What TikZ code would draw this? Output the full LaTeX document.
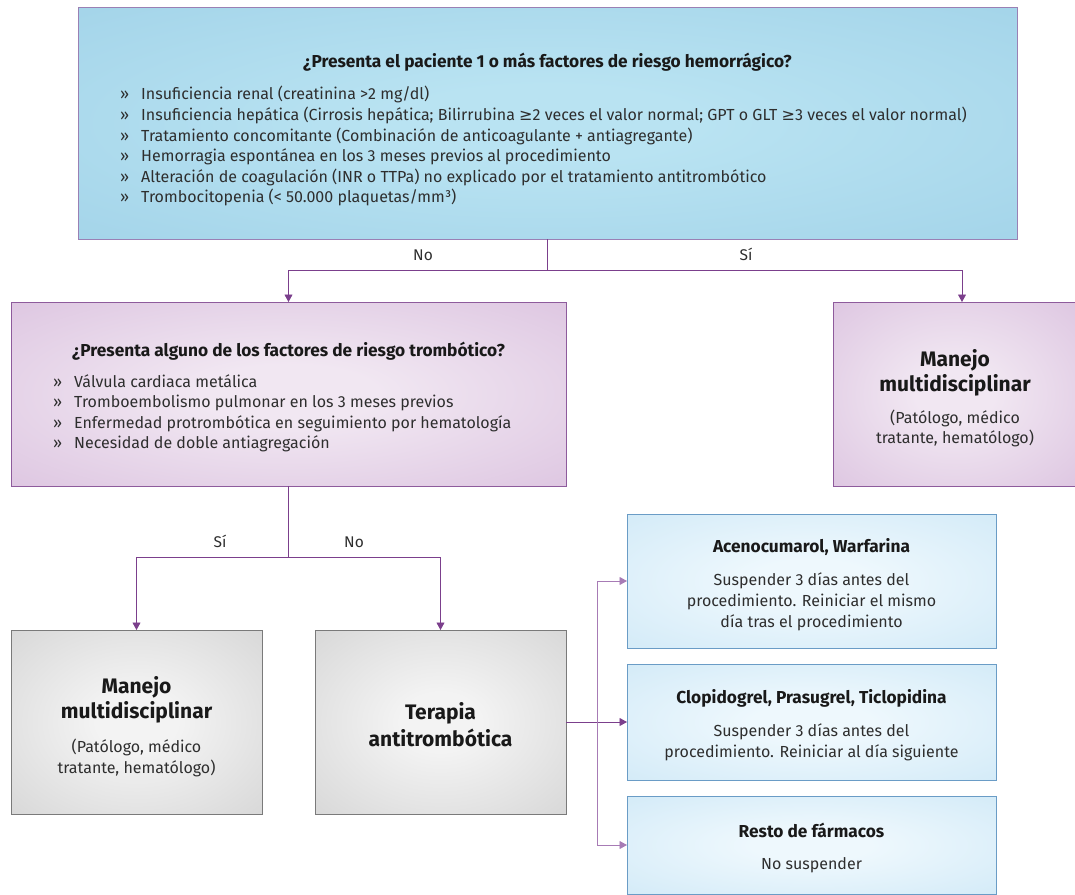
\documentclass[tikz,border=0pt]{standalone}
\usepackage{fontspec}
\setmainfont{Fira Sans}
\newfontfamily\symf{DejaVu Sans}
\usetikzlibrary{arrows.meta,calc}
\definecolor{ln}{HTML}{7B3F8C}
\definecolor{lnlight}{HTML}{A77BB5}
\definecolor{topin}{HTML}{B9E3F2}
\definecolor{topout}{HTML}{99CDE5}
\definecolor{topbd}{HTML}{9A80B4}
\definecolor{purin}{HTML}{F1E7F2}
\definecolor{purout}{HTML}{D4B6D9}
\definecolor{purbd}{HTML}{8E5B9C}
\definecolor{grin}{HTML}{F3F3F3}
\definecolor{grout}{HTML}{CACACA}
\definecolor{grbd}{HTML}{7A7A7A}
\definecolor{blin}{HTML}{EEF8FD}
\definecolor{blout}{HTML}{C6E4F5}
\definecolor{blbd}{HTML}{6A9CC6}
\definecolor{txtc}{HTML}{2E2E2E}
\pgfdeclareradialshading{topsh}{\pgfpoint{0bp}{0bp}}{color(0bp)=(topin); color(8bp)=(topin); color(50bp)=(topout)}
\pgfdeclareradialshading{pursh}{\pgfpoint{0bp}{0bp}}{color(0bp)=(purin); color(8bp)=(purin); color(50bp)=(purout)}
\pgfdeclareradialshading{grsh}{\pgfpoint{0bp}{0bp}}{color(0bp)=(grin); color(8bp)=(grin); color(50bp)=(grout)}
\pgfdeclareradialshading{blsh}{\pgfpoint{0bp}{0bp}}{color(0bp)=(blin); color(8bp)=(blin); color(50bp)=(blout)}
\tikzset{
  box/.style={inner sep=0pt, outer sep=0pt, line width=0.9pt},
  topbox/.style={box, shading=topsh, draw=topbd},
  purbox/.style={box, shading=pursh, draw=purbd},
  grbox/.style={box, shading=grsh, draw=grbd},
  blbox/.style={box, shading=blsh, draw=blbd},
  body/.style={inner sep=0pt, font=\fontsize{16}{19}\selectfont, text=txtc},
  ttl/.style={inner sep=0pt, font=\fontsize{17.3}{20}\selectfont\bfseries, text=black!90},
  big/.style={inner sep=0pt, font=\fontsize{21}{25}\selectfont\bfseries, text=black!90},
  lbl/.style={inner sep=0pt, font=\fontsize{15.5}{18}\selectfont, text=txtc},
  conn/.style={draw=ln, line width=0.8pt},
  arr/.style={conn, -{Triangle[width=8pt,length=7.5pt]}},
}
\newcommand\bul[4]{\node[body,anchor=base west] (#1b) at ($(#2,#3)+(-21,0)$) {»};
  \node[body,anchor=base west] (#1) at (#2,#3) {#4};}
\begin{document}
\begin{tikzpicture}[x=1pt,y=-1pt]
\useasboundingbox (0,0) rectangle (1075,894);
% boxes
\node[topbox, minimum width=939pt, minimum height=232pt] (top) at (547.5,123) {};
\node[purbox, minimum width=555pt, minimum height=184pt] (pur) at (288.5,394) {};
\node[purbox, minimum width=244pt, minimum height=184pt] (rmd) at (955,394) {};
\node[grbox, minimum width=251pt, minimum height=184pt] (g1) at (136.5,722) {};
\node[grbox, minimum width=251pt, minimum height=184pt] (g2) at (440.5,722) {};
\node[blbox, minimum width=369pt, minimum height=134pt] (b1) at (811.5,581) {};
\node[blbox, minimum width=369pt, minimum height=116pt] (b2) at (811.5,722) {};
\node[blbox, minimum width=369pt, minimum height=98pt] (b3) at (811.5,845) {};
% top box text
\node[ttl, anchor=base] (tt) at (547.5,67) {¿Presenta el paciente 1 o más factores de riesgo hemorrágico?};
\bul{ta}{141}{99}{Insuficiencia renal (creatinina >2 mg/dl)}
\bul{tb}{141}{120}{Insuficiencia hepática (Cirrosis hepática; Bilirrubina {\symf ≥}2 veces el valor normal; GPT o GLT {\symf ≥}3 veces el valor normal)}
\bul{tc}{141}{141}{Tratamiento concomitante (Combinación de anticoagulante + antiagregante)}
\bul{td}{141}{161}{Hemorragia espontánea en los 3 meses previos al procedimiento}
\bul{te}{141}{182}{Alteración de coagulación (INR o TTPa) no explicado por el tratamiento antitrombótico}
\bul{tf}{141}{202}{Trombocitopenia (< 50.000 plaquetas/mm³)}
% purple box text
\node[ttl, anchor=base] (pt) at (288.5,356) {¿Presenta alguno de los factores de riesgo trombótico?};
\bul{pa}{74}{387}{Válvula cardiaca metálica}
\bul{pb}{74}{407}{Tromboembolismo pulmonar en los 3 meses previos}
\bul{pc}{74}{428}{Enfermedad protrombótica en seguimiento por hematología}
\bul{pd}{74}{448}{Necesidad de doble antiagregación}
% right purple box
\node[big, anchor=base] (r1) at (955,366) {Manejo};
\node[big, anchor=base] (r2) at (955,391) {multidisciplinar};
\node[body, anchor=base] (r3) at (955,423) {(Patólogo, médico};
\node[body, anchor=base] (r4) at (955,443) {tratante, hematólogo)};
% gray boxes
\node[big, anchor=base] (m1) at (136.5,693) {Manejo};
\node[big, anchor=base] (m2) at (136.5,718) {multidisciplinar};
\node[body, anchor=base] (m3) at (136.5,752) {(Patólogo, médico};
\node[body, anchor=base] (m4) at (136.5,773) {tratante, hematólogo)};
\node[big, anchor=base] (n1) at (440.5,719) {Terapia};
\node[big, anchor=base] (n2) at (440.5,746) {antitrombótica};
% blue boxes
\node[ttl, anchor=base] (a1) at (811.5,552) {Acenocumarol, Warfarina};
\node[body, anchor=base] (a2) at (811.5,585) {Suspender 3 días antes del};
\node[body, anchor=base] (a3) at (811.5,606) {procedimiento. Reiniciar el mismo};
\node[body, anchor=base] (a4) at (811.5,627) {día tras el procedimiento};
\node[ttl, anchor=base] (c1) at (811.5,703) {Clopidogrel, Prasugrel, Ticlopidina};
\node[body, anchor=base] (c2) at (811.5,736) {Suspender 3 días antes del};
\node[body, anchor=base] (c3) at (811.5,757) {procedimiento. Reiniciar al día siguiente};
\node[ttl, anchor=base] (d1) at (811.5,837) {Resto de fármacos};
\node[body, anchor=base] (d2) at (811.5,869) {No suspender};
% connectors
\coordinate (j1) at (547.5,270);
\coordinate (rin) at (962,302);
\draw[conn] (top.south) -- (j1);
\draw[arr] (j1) -| (pur.north);
\draw[arr] (j1) -| (rin);
\node[lbl, anchor=base] (l1) at (423,260) {No};
\node[lbl, anchor=base] (l2) at (746,260) {Sí};
\coordinate (j2) at (288.5,557);
\draw[conn] (pur.south) -- (j2);
\draw[arr] (j2) -| (g1.north);
\draw[arr] (j2) -| (g2.north);
\node[lbl, anchor=base] (l3) at (220,547) {Sí};
\node[lbl, anchor=base] (l4) at (354,547) {No};
\coordinate (j3) at (597,722);
\draw[conn] (g2.east) -- (j3);
\draw[arr] (j3) -- (b2.west);
\draw[arr, draw=lnlight] (j3) |- (b1.west);
\draw[arr, draw=lnlight] (j3) |- (b3.west);
\end{tikzpicture}
\end{document}
